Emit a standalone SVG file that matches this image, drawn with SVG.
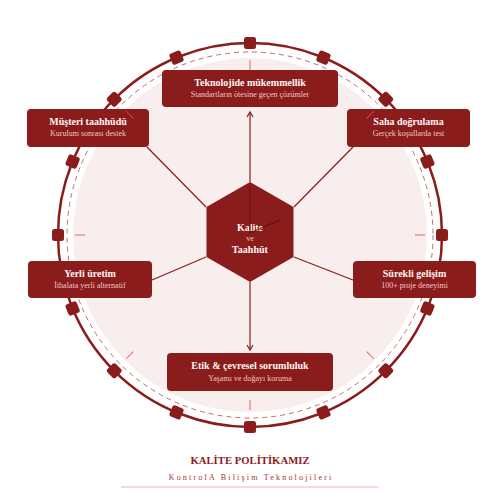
<svg xmlns="http://www.w3.org/2000/svg" xmlns:xlink="http://www.w3.org/1999/xlink" width="500" height="500" viewBox="0 0 500 500">
<style>
.box{fill:#8b1c1c;}
.ttl{font-family:"Liberation Serif",serif;font-weight:bold;font-size:10px;fill:#fff6f6;text-anchor:middle;}
.sub{font-family:"Liberation Serif",serif;font-size:8px;fill:#f0c6c6;text-anchor:middle;}
.con{stroke:#8b1c1c;stroke-width:1.2;fill:none;}
.tick{stroke:#d9534f;stroke-width:1;opacity:0.85;}
</style>
<defs>
<rect id="sq" x="244" y="37" width="12" height="12" rx="2.5" fill="#8b1c1c"/>
<line id="tk" x1="250" y1="60" x2="250" y2="70" class="tick"/>
<marker id="arr" markerWidth="8" markerHeight="8" refX="6" refY="4" orient="auto" markerUnits="userSpaceOnUse">
<path d="M1,1 L6,4 L1,7" fill="none" stroke="#8b1c1c" stroke-width="1.2"/>
</marker>
</defs>
<rect width="500" height="500" fill="#ffffff"/>
<g id="dial">
<circle cx="250" cy="235" r="177" fill="#f8eeee"/>
<circle cx="250" cy="235" r="183" fill="none" stroke="#c86a6a" stroke-width="1" stroke-dasharray="5 4"/>
<circle cx="250" cy="235" r="192" fill="none" stroke="#8b1c1c" stroke-width="2.5"/>
<use xlink:href="#sq"/>
<use xlink:href="#sq" transform="rotate(22.5 250 235)"/>
<use xlink:href="#sq" transform="rotate(45 250 235)"/>
<use xlink:href="#sq" transform="rotate(67.5 250 235)"/>
<use xlink:href="#sq" transform="rotate(90 250 235)"/>
<use xlink:href="#sq" transform="rotate(112.5 250 235)"/>
<use xlink:href="#sq" transform="rotate(135 250 235)"/>
<use xlink:href="#sq" transform="rotate(157.5 250 235)"/>
<use xlink:href="#sq" transform="rotate(180 250 235)"/>
<use xlink:href="#sq" transform="rotate(202.5 250 235)"/>
<use xlink:href="#sq" transform="rotate(225 250 235)"/>
<use xlink:href="#sq" transform="rotate(247.5 250 235)"/>
<use xlink:href="#sq" transform="rotate(270 250 235)"/>
<use xlink:href="#sq" transform="rotate(292.5 250 235)"/>
<use xlink:href="#sq" transform="rotate(315 250 235)"/>
<use xlink:href="#sq" transform="rotate(337.5 250 235)"/>
</g>
<g id="connectors">
<line class="con" x1="250" y1="182" x2="250" y2="112" marker-end="url(#arr)"/>
<line class="con" x1="250" y1="282" x2="250" y2="350" marker-end="url(#arr)"/>
<line class="con" x1="206" y1="207" x2="147" y2="147"/>
<line class="con" x1="294" y1="207" x2="353" y2="147"/>
<line class="con" x1="206" y1="257" x2="152" y2="280"/>
<line class="con" x1="294" y1="257" x2="353" y2="280"/>
</g>
<g id="center">
<polygon points="250,182 293.5,207 293.5,257 250,282 206.5,257 206.5,207" fill="#8b1c1c"/>
<text class="ttl" x="250" y="230.5">Kalite</text>
<text class="sub" x="250" y="241">ve</text>
<text class="ttl" x="250" y="252.5">Taahhüt</text>
<line x1="250" y1="233" x2="250" y2="187" stroke="#5c0d0d" stroke-width="1.5" opacity="0.6"/>
<line x1="250" y1="233" x2="280" y2="220" stroke="#5c0d0d" stroke-width="1.5" opacity="0.6"/>
</g>
<g id="n-teknoloji">
<rect class="box" x="162" y="70" width="176" height="37" rx="4"/>
<text class="ttl" x="250" y="86">Teknolojide mükemmellik</text>
<text class="sub" x="250" y="96.5">Standartların ötesine geçen çözümler</text>
</g>
<g id="n-musteri">
<rect class="box" x="27" y="109" width="122" height="38" rx="4"/>
<text class="ttl" x="88" y="124.5">Müşteri taahhüdü</text>
<text class="sub" x="88" y="136">Kurulum sonrası destek</text>
</g>
<g id="n-saha">
<rect class="box" x="347" y="109" width="123" height="38" rx="4"/>
<text class="ttl" x="408.5" y="124.5">Saha doğrulama</text>
<text class="sub" x="408.5" y="136">Gerçek koşullarda test</text>
</g>
<g id="n-yerli">
<rect class="box" x="28" y="261" width="124" height="37" rx="4"/>
<text class="ttl" x="90" y="276.5">Yerli üretim</text>
<text class="sub" x="90" y="288">İthalata yerli alternatif</text>
</g>
<g id="n-surekli">
<rect class="box" x="353" y="261" width="123" height="37" rx="4"/>
<text class="ttl" x="414.5" y="276.5">Sürekli gelişim</text>
<text class="sub" x="414.5" y="288">100+ proje deneyimi</text>
</g>
<g id="n-etik">
<rect class="box" x="167" y="353" width="166" height="38" rx="4"/>
<text class="ttl" x="250" y="368.5">Etik &amp; çevresel sorumluluk</text>
<text class="sub" x="250" y="381">Yaşamı ve doğayı koruma</text>
</g>
<g id="ticks">
<use xlink:href="#tk"/>
<use xlink:href="#tk" transform="rotate(45 250 235)"/>
<use xlink:href="#tk" transform="rotate(90 250 235)"/>
<use xlink:href="#tk" transform="rotate(135 250 235)"/>
<use xlink:href="#tk" transform="rotate(180 250 235)"/>
<use xlink:href="#tk" transform="rotate(225 250 235)"/>
<use xlink:href="#tk" transform="rotate(270 250 235)"/>
<use xlink:href="#tk" transform="rotate(315 250 235)"/>
</g>
<g id="footer">
<text x="250" y="464" font-family="Liberation Serif, serif" font-weight="bold" font-size="10.7" fill="#8b1c1c" text-anchor="middle">KALİTE POLİTİKAMIZ</text>
<text x="251.1" y="480" font-family="Liberation Serif, serif" font-size="8" letter-spacing="2.2" fill="#a83232" text-anchor="middle">KontrolA Bilişim Teknolojileri</text>
<line x1="121" y1="487" x2="378" y2="487" stroke="#f0b4b4" stroke-width="1"/>
</g>
</svg>
